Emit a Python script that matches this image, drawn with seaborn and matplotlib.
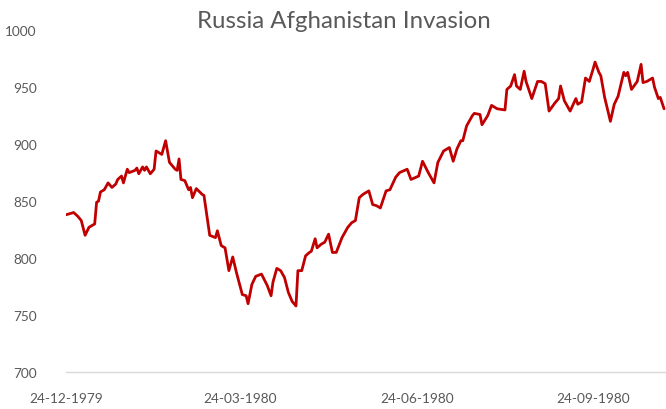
import pandas as pd
import seaborn as sns
import matplotlib.pyplot as plt
import matplotlib.dates as mdates

TITLE = "Russia Afghanistan Invasion"

DATES = [
    "1979-12-24", "1979-12-28", "1979-12-30", "1980-01-01", "1980-01-03", "1980-01-05",
    "1980-01-08", "1980-01-09", "1980-01-10", "1980-01-11", "1980-01-13", "1980-01-15",
    "1980-01-17", "1980-01-19", "1980-01-20", "1980-01-22", "1980-01-23", "1980-01-25",
    "1980-01-26", "1980-01-29", "1980-01-30", "1980-01-31", "1980-02-02", "1980-02-03",
    "1980-02-04", "1980-02-06", "1980-02-08", "1980-02-09", "1980-02-12", "1980-02-14",
    "1980-02-16", "1980-02-19", "1980-02-20", "1980-02-21", "1980-02-22", "1980-02-24",
    "1980-02-26", "1980-02-27", "1980-02-28", "1980-03-01", "1980-03-04", "1980-03-05",
    "1980-03-08", "1980-03-11", "1980-03-12", "1980-03-14", "1980-03-16", "1980-03-18",
    "1980-03-20", "1980-03-22", "1980-03-25", "1980-03-27", "1980-03-28", "1980-03-30",
    "1980-04-01", "1980-04-04", "1980-04-07", "1980-04-09", "1980-04-10", "1980-04-12",
    "1980-04-14", "1980-04-16", "1980-04-18", "1980-04-20", "1980-04-22", "1980-04-23",
    "1980-04-25", "1980-04-27", "1980-04-29", "1980-04-30", "1980-05-02", "1980-05-03",
    "1980-05-05", "1980-05-07", "1980-05-09", "1980-05-11", "1980-05-13", "1980-05-16",
    "1980-05-19", "1980-05-21", "1980-05-23", "1980-05-25", "1980-05-27", "1980-05-30",
    "1980-06-01", "1980-06-03", "1980-06-05", "1980-06-08", "1980-06-10", "1980-06-13",
    "1980-06-15", "1980-06-19", "1980-06-21", "1980-06-25", "1980-06-27", "1980-06-30",
    "1980-07-03", "1980-07-05", "1980-07-08", "1980-07-11", "1980-07-13", "1980-07-15",
    "1980-07-17", "1980-07-18", "1980-07-20", "1980-07-23", "1980-07-24", "1980-07-27",
    "1980-07-28", "1980-07-31", "1980-08-02", "1980-08-05", "1980-08-09", "1980-08-10",
    "1980-08-12", "1980-08-14", "1980-08-15", "1980-08-17", "1980-08-19", "1980-08-20",
    "1980-08-23", "1980-08-26", "1980-08-28", "1980-08-30", "1980-09-01", "1980-09-04",
    "1980-09-06", "1980-09-07", "1980-09-09", "1980-09-12", "1980-09-15", "1980-09-16",
    "1980-09-18", "1980-09-20", "1980-09-22", "1980-09-24", "1980-09-25", "1980-09-27",
    "1980-09-28", "1980-09-30", "1980-10-03", "1980-10-05", "1980-10-07", "1980-10-10",
    "1980-10-11", "1980-10-12", "1980-10-14", "1980-10-17", "1980-10-19", "1980-10-20",
    "1980-10-22", "1980-10-25", "1980-10-26", "1980-10-28", "1980-10-29", "1980-10-31",
]

VALUES = [
    838, 840, 837, 833, 820, 827,
    830, 849, 850, 858, 860, 866,
    862, 865, 869, 872, 866, 878,
    875, 877, 879, 874, 880, 877,
    880, 874, 878, 894, 891, 903,
    884, 878, 877, 887, 869, 868,
    860, 862, 853, 861, 856, 855,
    820, 818, 824, 811, 809, 789,
    801, 787, 768, 767, 760, 777,
    784, 786, 776, 767, 779, 791,
    789, 783, 770, 762, 758, 789,
    789, 802, 805, 806, 817, 809,
    812, 814, 821, 805, 805, 818,
    827, 831, 833, 853, 856, 859,
    847, 846, 844, 859, 860, 871,
    875, 878, 869, 872, 885, 875,
    866, 884, 894, 897, 885, 896,
    903, 903, 916, 925, 927, 926,
    917, 925, 934, 931, 930, 948,
    951, 961, 951, 948, 964, 955,
    940, 955, 955, 953, 929, 936,
    940, 951, 938, 929, 940, 935,
    937, 958, 955, 966, 972, 963,
    960, 941, 920, 935, 942, 963,
    960, 963, 948, 955, 970, 954,
    955, 958, 950, 940, 941, 931,
]

X_TICKS = ["1979-12-24", "1980-03-24", "1980-06-24", "1980-09-24"]
Y_TICKS = [700, 750, 800, 850, 900, 950, 1000]


def create_plot():
    df = pd.DataFrame({"date": pd.to_datetime(DATES), "value": VALUES})

    sns.set_style("white")
    plt.rcParams["font.family"] = ["Lato", "DejaVu Sans"]

    fig = plt.figure(figsize=(6.66, 4.10), dpi=100)
    ax = fig.add_axes([0.099, 0.090, 0.901, 0.834])

    sns.lineplot(data=df, x="date", y="value", color="#C00000", linewidth=2.0, ax=ax)

    ax.set_ylim(700, 1000)
    ax.set_yticks(Y_TICKS)
    ax.set_xlim(pd.Timestamp("1979-12-24"), pd.Timestamp("1980-11-01"))
    ax.set_xticks(pd.to_datetime(X_TICKS))
    ax.xaxis.set_major_formatter(mdates.DateFormatter("%d-%m-%Y"))

    ax.set_xlabel("")
    ax.set_ylabel("")
    # Excel centres the title on the chart area, not the plot area
    ax.set_title(TITLE, fontsize=17.3, color="#595959", pad=2, x=0.463)

    for side in ["left", "right", "top"]:
        ax.spines[side].set_visible(False)
    ax.spines["bottom"].set_color("#d9d9d9")
    ax.spines["bottom"].set_linewidth(1.0)

    ax.tick_params(axis="x", length=5, width=1, color="#d9d9d9", pad=9,
                   labelsize=9.8, labelcolor="#595959")
    ax.tick_params(axis="y", length=0, pad=21, labelsize=9.8, labelcolor="#595959")
    ax.grid(False)

    fig.savefig("out.png", dpi=100)


if __name__ == "__main__":
    create_plot()
